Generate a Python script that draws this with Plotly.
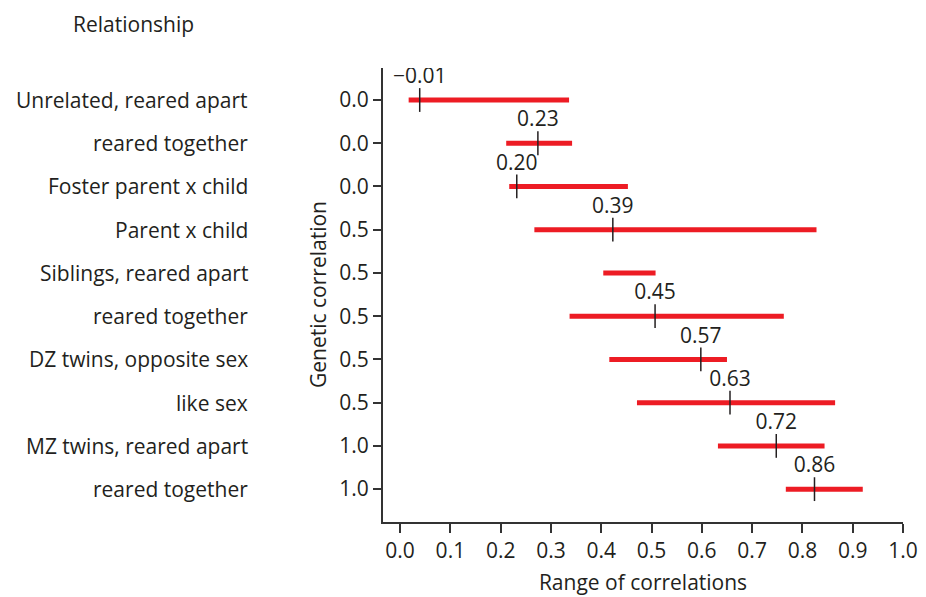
import plotly.graph_objects as go

relationships = ["Unrelated, reared apart", "reared together", "Foster parent x child",
                 "Parent x child", "Siblings, reared apart", "reared together",
                 "DZ twins, opposite sex", "like sex", "MZ twins, reared apart", "reared together"]
genetic_corr = ["0.0", "0.0", "0.0", "0.5", "0.5", "0.5", "0.5", "0.5", "1.0", "1.0"]
range_low = [0.017, 0.211, 0.217, 0.267, 0.404, 0.337, 0.416, 0.471, 0.632, 0.767]
range_high = [0.336, 0.342, 0.453, 0.828, 0.508, 0.763, 0.650, 0.865, 0.844, 0.920]
median_pos = [0.039, 0.274, 0.232, 0.423, None, 0.507, 0.598, 0.656, 0.748, 0.824]
median_label = ["\u22120.01", "0.23", "0.20", "0.39", "", "0.45", "0.57", "0.63", "0.72", "0.86"]
x_ticks = [0.0, 0.1, 0.2, 0.3, 0.4, 0.5, 0.6, 0.7, 0.8, 0.9, 1.0]

FONT = "Open Sans"
FS = 21
TXT = "#231f20"
rows = list(range(len(relationships)))

bx, by = [], []
for i in rows:
    bx += [range_low[i], range_high[i], None]
    by += [i, i, None]

fig = go.Figure()
fig.add_trace(go.Scatter(x=bx, y=by, mode="lines",
                         line=dict(color="#ed1c24", width=5), hoverinfo="skip"))
mx = [m for m in median_pos if m is not None]
my = [i for i, m in zip(rows, median_pos) if m is not None]
mt = [t for t, m in zip(median_label, median_pos) if m is not None]
fig.add_trace(go.Scatter(x=mx, y=my, mode="markers+text", text=mt,
                         textposition="top center",
                         textfont=dict(family=FONT, size=FS, color=TXT),
                         marker=dict(symbol="line-ns", size=17,
                                     line=dict(color="#231f20", width=1.5)),
                         hoverinfo="skip"))

# page body has an 8px margin; work in page pixels and convert
OFF = 8
W, H = 926 - OFF, 597 - OFF
L, R, T, B = 383 - OFF, 903 - OFF, 68 - OFF, 522 - OFF
pw, ph = R - L, B - T

def px_x(p):
    return (p - OFF - L) / pw

def px_y(p):
    return (B - (p - OFF)) / ph

annotations = []
for i, name in enumerate(relationships):
    annotations.append(dict(xref="paper", yref="y", x=px_x(250), y=i, text=name,
                            showarrow=False, xanchor="right", yanchor="middle",
                            font=dict(family=FONT, size=FS, color=TXT)))
annotations.append(dict(xref="paper", yref="paper", x=px_x(71), y=px_y(8),
                        text="Relationship", showarrow=False, xanchor="left",
                        yanchor="top", font=dict(family=FONT, size=FS, color=TXT)))
annotations.append(dict(xref="paper", yref="paper", x=px_x(318), y=px_y(295),
                        text="Genetic correlation", showarrow=False, textangle=-90,
                        xanchor="center", yanchor="middle",
                        font=dict(family=FONT, size=FS, color=TXT)))

fig.update_layout(
    width=W, height=H,
    margin=dict(l=L, r=W - R, t=T, b=H - B),
    paper_bgcolor="white", plot_bgcolor="white",
    showlegend=False,
    annotations=annotations,
    font=dict(family=FONT, size=FS, color=TXT),
)
fig.update_xaxes(range=[-0.034, 1.0], tickvals=x_ticks,
                 ticktext=[f"{v:.1f}" for v in x_ticks], automargin=False,
                 showgrid=False, zeroline=False, showline=True,
                 linecolor="#333", linewidth=2, ticks="outside", ticklen=9,
                 tickwidth=1.5, tickcolor="#333",
                 tickfont=dict(family=FONT, size=FS, color=TXT),
                 title=dict(text="Range of correlations", standoff=12,
                            font=dict(family=FONT, size=FS, color=TXT)))
fig.update_yaxes(range=[9.76, -0.74], tickvals=rows, ticktext=genetic_corr,
                 automargin=False,
                 showgrid=False, zeroline=False, showline=True,
                 linecolor="#333", linewidth=2, ticks="outside", ticklen=8,
                 tickwidth=1.5, tickcolor="#333",
                 tickfont=dict(family=FONT, size=FS, color=TXT))

fig.write_html("out.html")
